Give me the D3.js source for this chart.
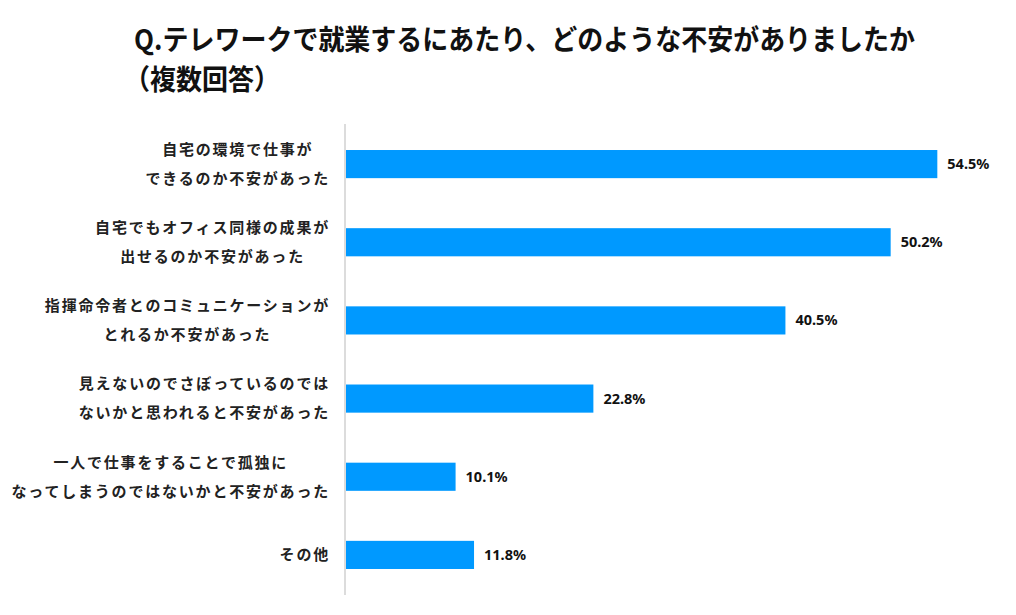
<!DOCTYPE html>
<html>
<head>
<meta charset="utf-8">
<script src="https://cdn.jsdelivr.net/npm/d3@7.9.0/dist/d3.min.js"></script>
<style>
  body { margin: 0; background: #fff; }
  svg { display: block; }
</style>
</head>
<body>
<div id="chart"></div>
<script>
// Data
const titleLines = ['Q.テレワークで就業するにあたり、どのような不安がありましたか', '（複数回答）'];
const categories = [
  ['自宅の環境で仕事が', 'できるのか不安があった'],
  ['自宅でもオフィス同様の成果が', '出せるのか不安があった'],
  ['指揮命令者とのコミュニケーションが', 'とれるか不安があった'],
  ['見えないのでさぼっているのでは', 'ないかと思われると不安があった'],
  ['一人で仕事をすることで孤独に', 'なってしまうのではないかと不安があった'],
  ['その他']
];
const values = [54.5, 50.2, 40.5, 22.8, 10.1, 11.8];

const width = 1016;
const height = 615;
const margin = { top: 125, right: 20, bottom: 21, left: 346 };

const jpFont = '"Noto Sans CJK JP", "Noto Sans", sans-serif';

const svg = d3.select('#chart')
  .append('svg')
  .attr('width', width)
  .attr('height', height);

// Title (slightly stretched vertically like the condensed original font)
svg.append('g')
  .selectAll('text')
  .data(titleLines)
  .join('text')
  .attr('transform', (d, i) => `translate(${i === 0 ? 134 : 124},${50 + i * 40}) scale(1,1.08)`)
  .attr('font-family', jpFont)
  .attr('font-weight', 'bold')
  .attr('font-size', 26)
  .attr('fill', '#111')
  .text(d => d);

const idx = d3.range(values.length);

const yScale = d3.scaleBand()
  .domain(idx)
  .range([margin.top, height - margin.bottom])
  .paddingInner(0.64)
  .paddingOuter(0.32);

// 54.5 -> 591px wide
const xScale = d3.scaleLinear()
  .domain([0, 60])
  .range([margin.left, margin.left + 651]);

// Bars
svg.append('g')
  .selectAll('rect')
  .data(values)
  .join('rect')
  .attr('x', xScale(0))
  .attr('y', (d, i) => yScale(i))
  .attr('width', d => xScale(d) - xScale(0))
  .attr('height', yScale.bandwidth())
  .attr('fill', '#0099ff');

// Value labels
svg.append('g')
  .selectAll('text')
  .data(values)
  .join('text')
  .attr('x', d => xScale(d) + 10)
  .attr('y', (d, i) => yScale(i) + yScale.bandwidth() / 2)
  .attr('dy', '0.35em')
  .attr('font-family', '"Noto Sans", sans-serif')
  .attr('font-weight', 'bold')
  .attr('font-size', 14.5)
  .attr('fill', '#111')
  .text(d => d.toFixed(1) + '%');

// Category labels
const labels = svg.append('g')
  .selectAll('text')
  .data(categories)
  .join('text')
  .attr('text-anchor', 'middle')
  .attr('font-family', jpFont)
  .attr('font-weight', 'bold')
  .attr('font-size', 15)
  .attr('letter-spacing', 1.8)
  .attr('fill', '#222');

labels.each(function (lines, i) {
  const cy = yScale(i) + yScale.bandwidth() / 2;
  const lh = 29;
  const t = d3.select(this);
  // center each label block at the widest line, right edge at 330
  lines.forEach((ln, j) => {
    t.append('tspan')
      .attr('x', 0)
      .attr('y', cy + (j - (lines.length - 1) / 2) * lh)
      .attr('dy', '0.35em')
      .text(ln);
  });
  const w = this.getBBox().width;
  t.attr('transform', `translate(${330 - w / 2},0)`);
});

// Axis line
svg.append('line')
  .attr('x1', margin.left - 1)
  .attr('x2', margin.left - 1)
  .attr('y1', margin.top - 1)
  .attr('y2', height - margin.bottom + 1)
  .attr('stroke', '#d0d0d0')
  .attr('stroke-width', 1.5);
</script>
</body>
</html>
